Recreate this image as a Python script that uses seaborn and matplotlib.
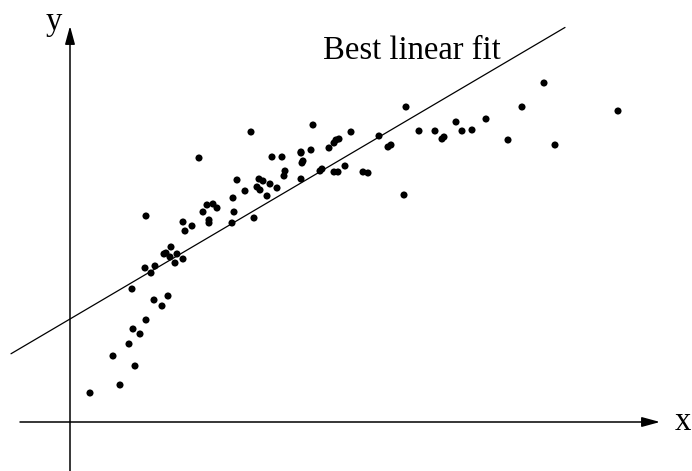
import numpy as np
import pandas as pd
import matplotlib
matplotlib.use("Agg")
import matplotlib.pyplot as plt
import seaborn as sns

# Observed samples (x, y) measured from the origin of the drawn axes
x_vals = [20, 50, 65, 43, 59, 63, 70, 76, 84, 92, 98, 62, 75, 81, 85, 76,
          94, 96, 101, 100, 105, 107, 113, 113, 115, 122, 133, 137, 143, 139,
          139, 147, 129, 162, 164, 163, 167, 175, 181, 184, 187, 189, 190, 193,
          197, 200, 202, 207, 212, 214, 215, 231, 231, 231, 232, 233, 241, 243,
          250, 252, 259, 264, 266, 269, 264, 268, 275, 281, 293, 298, 309, 318,
          321, 336, 334, 349, 365, 372, 374, 386, 392, 402, 416, 438, 452, 474,
          485, 548]
y_vals = [29, 37, 56, 66, 78, 93, 88, 102, 122, 116, 126, 133, 154, 149, 156, 206,
          168, 169, 175, 165, 159, 168, 163, 200, 191, 196, 210, 217, 218, 202,
          199, 214, 264, 199, 210, 224, 242, 231, 290, 204, 235, 243, 232, 241,
          226, 238, 265, 234, 265, 246, 251, 243, 270, 269, 259, 261, 272, 297,
          251, 253, 274, 279, 282, 283, 250, 250, 256, 290, 250, 249, 286, 275,
          277, 315, 227, 291, 291, 283, 285, 300, 291, 292, 303, 282, 315, 339,
          277, 311]

# Straight-line fit: y = intercept + slope * x
fit_intercept = 103
fit_slope = 0.589
fit_x_range = [-59, 495]

df = pd.DataFrame({"x": x_vals, "y": y_vals})

sns.set_style("white")
plt.rcParams["font.family"] = ["Liberation Serif", "DejaVu Serif"]
plt.rcParams["text.color"] = "black"

fig = plt.figure(figsize=(6.92, 4.71), dpi=100)
ax = fig.add_axes([0, 0, 1, 1])
ax.set_xlim(-70, 622)
ax.set_ylim(-49, 422)
ax.axis("off")

# Coordinate axes with arrow heads
arrow = dict(arrowstyle="-|>,head_length=1.1,head_width=0.3", mutation_scale=10,
             lw=1.1, color="black", shrinkA=0, shrinkB=0)
ax.annotate("", xy=(0, 396), xytext=(0, -49), arrowprops=arrow)
ax.annotate("", xy=(590, 0), xytext=(-50, 0), arrowprops=arrow)

# Fitted line
fx = np.array(fit_x_range, dtype=float)
sns.lineplot(x=fx, y=fit_intercept + fit_slope * fx, ax=ax, color="black",
             lw=0.9, legend=False)

# Data points
sns.scatterplot(data=df, x="x", y="y", ax=ax, color="black", s=26,
                edgecolor="none", legend=False)

ax.text(253, 363, "Best linear fit", fontsize=23.5, color="black",
        ha="left", va="baseline")
ax.text(-24, 392, "y", fontsize=23.5, color="black", ha="left", va="baseline")
ax.text(605, -8, "x", fontsize=23.5, color="black", ha="left", va="baseline")

fig.savefig("out.png", dpi=100)
